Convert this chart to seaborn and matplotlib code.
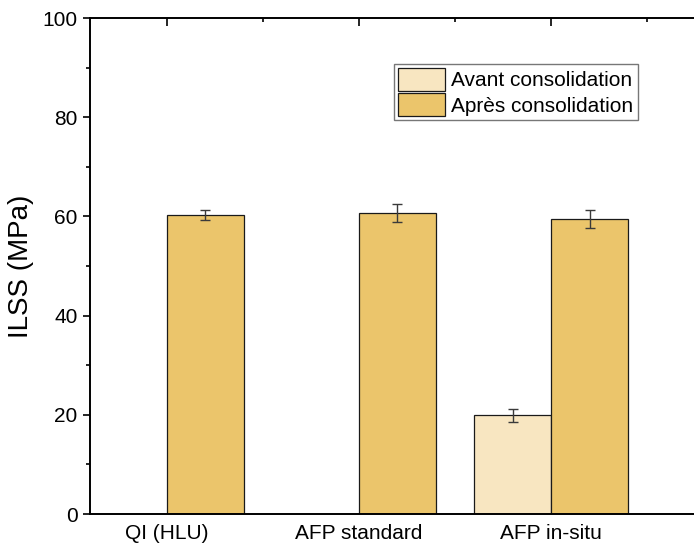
# -------------------------------------
# Import Libraries
# -------------------------------------
import numpy as np
import pandas as pd
import matplotlib
matplotlib.use("Agg")
import matplotlib.pyplot as plt
import matplotlib.patches as mpatches
from matplotlib.ticker import FixedLocator, MultipleLocator
import seaborn as sns


# -------------------------------------
# Data
# -------------------------------------
categories = ["QI (HLU)", "AFP standard", "AFP in-situ"]
series = ["Avant consolidation", "Après consolidation"]

ilss_avant = [np.nan, np.nan, 19.9]
ilss_apres = [60.3, 60.6, 59.5]

err_avant = [np.nan, np.nan, 1.35]
err_apres = [1.0, 1.8, 1.8]

colors = ["#F8E6C1", "#EBC56B"]


# -------------------------------------
# Long table for seaborn
# -------------------------------------
df = pd.DataFrame({
    "Echantillon": categories * 2,
    "Etat": [series[0]] * 3 + [series[1]] * 3,
    "ILSS": ilss_avant + ilss_apres,
    "err": err_avant + err_apres,
})


# -------------------------------------
# Style
# -------------------------------------
sns.set_style("white")
plt.rcParams["font.family"] = ["Liberation Sans", "DejaVu Sans"]
plt.rcParams["text.color"] = "black"
plt.rcParams["axes.labelcolor"] = "black"
plt.rcParams["xtick.color"] = "black"
plt.rcParams["ytick.color"] = "black"


# -------------------------------------
# Figure
# -------------------------------------
fig = plt.figure(figsize=(6.94, 5.44), dpi=100)
ax = fig.add_axes([90 / 694, 30 / 544, 634 / 694, 496 / 544])

sns.barplot(
    data=df,
    x="Echantillon",
    y="ILSS",
    hue="Etat",
    order=categories,
    hue_order=series,
    palette=colors,
    saturation=1,
    width=0.8,
    errorbar=None,
    edgecolor="#1a1a1a",
    linewidth=0.9,
    legend=False,
    ax=ax,
)


# -------------------------------------
# Error bars
# -------------------------------------
for container, name in zip(ax.containers, series):
    sub = df[df["Etat"] == name].set_index("Echantillon")
    for patch in container.patches:
        h = patch.get_height()
        if np.isnan(h):
            continue
        xc = patch.get_x() + patch.get_width() / 2
        cat = categories[int(round(xc))]
        ax.errorbar(
            xc, h, yerr=sub.loc[cat, "err"],
            fmt="none", ecolor="#3a3a3a", elinewidth=1.0,
            capsize=3.3, capthick=1.0, zorder=5,
        )


# -------------------------------------
# Axes
# -------------------------------------
ax.set_xlim(-0.4, 2.9)
ax.set_ylim(0, 100)

ax.yaxis.set_major_locator(MultipleLocator(20))
ax.yaxis.set_minor_locator(MultipleLocator(10))
ax.xaxis.set_minor_locator(FixedLocator([0.5, 1.5, 2.5]))

ax.tick_params(axis="y", which="major", direction="out", length=5, width=1.2,
               labelsize=15, pad=4, left=True)
ax.tick_params(axis="y", which="minor", direction="out", length=3, width=1.2,
               left=True)
ax.tick_params(axis="x", which="both", bottom=False, top=True,
               direction="in", labelbottom=True, labelsize=15, pad=7)
ax.tick_params(axis="x", which="major", length=6, width=1.2)
ax.tick_params(axis="x", which="minor", length=3, width=1.2)

for s in ax.spines.values():
    s.set_linewidth(1.4)
    s.set_color("black")

ax.set_xlabel("")
ax.set_ylabel("ILSS (MPa)", fontsize=20, labelpad=6)


# -------------------------------------
# Legend
# -------------------------------------
handles = [mpatches.Patch(facecolor=c, edgecolor="#1a1a1a", linewidth=0.9)
           for c in colors]
leg = ax.legend(
    handles, series,
    loc="upper left",
    bbox_to_anchor=(394 / 694, 1 - 64 / 544),
    bbox_transform=fig.transFigure,
    fontsize=15,
    frameon=True,
    fancybox=False,
    edgecolor="#555555",
    handlelength=2.25,
    handleheight=1.3,
    handletextpad=0.3,
    labelspacing=0.12,
    borderpad=0.2,
    borderaxespad=0,
)
leg.get_frame().set_linewidth(1.0)

fig.savefig("out.png", dpi=100)
